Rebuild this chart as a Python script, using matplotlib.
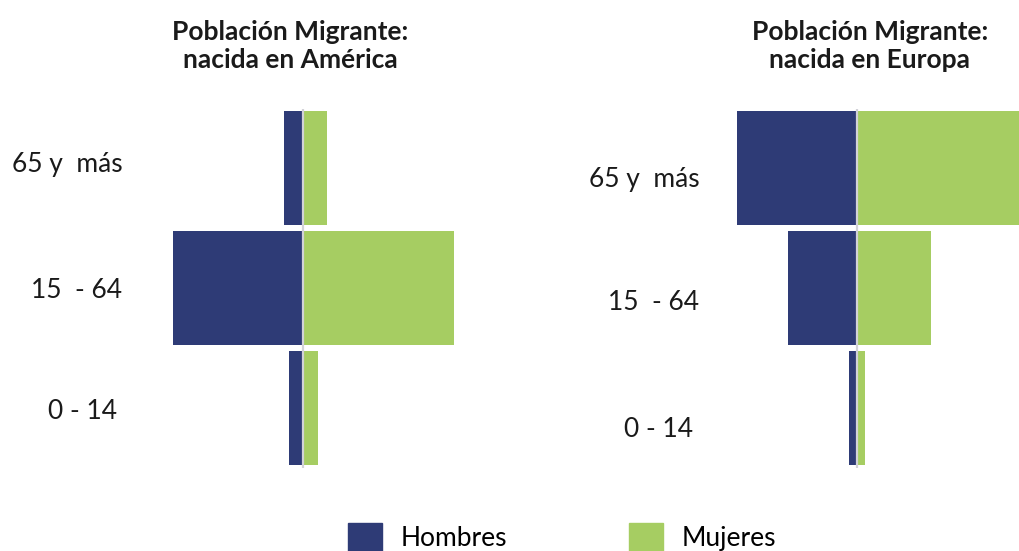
import matplotlib.pyplot as plt
from matplotlib.patches import Patch

plt.rcParams['font.family'] = ['Lato', 'DejaVu Sans']

# grupos de edad (de abajo hacia arriba)
grupos = ['0 - 14', '15  - 64', '65 y  más']
# valores (unidades relativas)
america_hombres = [14, 130, 19]
america_mujeres = [15, 151, 24]
europa_hombres = [8, 69, 120]
europa_mujeres = [8, 74, 170]

titulos = ['Población Migrante:\nnacida en América', 'Población Migrante:\nnacida en Europa']
leyenda = ['Hombres', 'Mujeres']

azul = '#2e3b76'
verde = '#a6cd62'

fig = plt.figure(figsize=(10.2, 5.51), dpi=100)

H = 551.0
W = 1020.0
bottom = 1 - 467.5 / H
height = 359.0 / H

# izquierda: centro en x=302.7 px, derecha: centro en x=856.7 px
ax1 = fig.add_axes([130 / W, bottom, 350 / W, height])
ax2 = fig.add_axes([700 / W, bottom, 320 / W, height])
ax1.set_xlim(-172.7, 177.3)
ax2.set_xlim(-156.7, 163.3)

datos = [(ax1, america_hombres, america_mujeres), (ax2, europa_hombres, europa_mujeres)]
y = list(range(len(grupos)))
for ax, hom, muj in datos:
    ax.barh(y, [-v for v in hom], height=0.955, color=azul)
    ax.barh(y, muj, height=0.955, color=verde)
    ax.axvline(0, color='#d2d2d8', lw=1.6, zorder=5)
    ax.set_ylim(-0.5, 2.5)
    ax.axis('off')

# etiquetas de los grupos (desplazamientos en px)
etq_izq = [(-186, 0.035), (-181, 0.02), (-180, -0.03)]
etq_der = [(-164, 0.18), (-158, 0.12), (-157, 0.09)]
for ax, pos in [(ax1, etq_izq), (ax2, etq_der)]:
    for i, g in enumerate(grupos):
        dx, dy = pos[i]
        ax.text(dx, i - dy, g, ha='right', va='center', fontsize=19, color='#1a1a1a')

fig.text(290 / W, 1 - 46 / H, titulos[0], ha='center', va='center', fontsize=19,
         fontweight='bold', color='#1a1a1a', linespacing=1.2)
fig.text(870 / W, 1 - 46 / H, titulos[1], ha='center', va='center', fontsize=19,
         fontweight='bold', color='#1a1a1a', linespacing=1.2)

handles = [Patch(color=azul), Patch(color=verde)]
fig.legend(handles, leyenda, loc='center', bbox_to_anchor=(0.551, 0.025), ncol=2,
           frameon=False, fontsize=19, handlelength=1.3, handleheight=1.3,
           handletextpad=0.7, columnspacing=4.6, borderpad=0)

fig.savefig('out.png', dpi=100)
